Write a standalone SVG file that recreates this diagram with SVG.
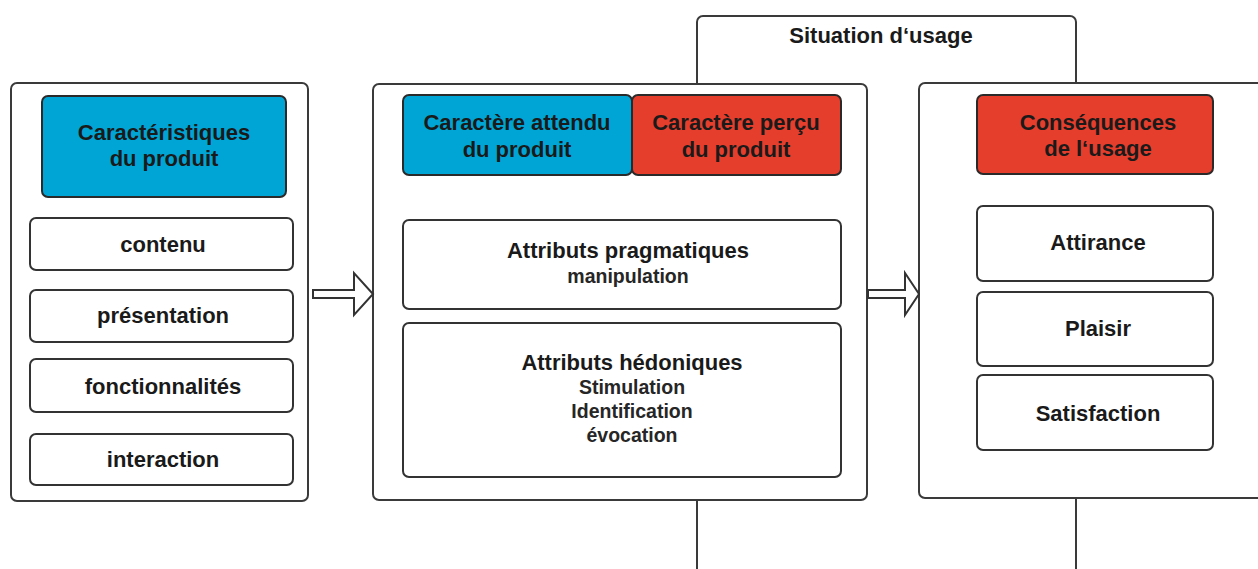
<svg xmlns="http://www.w3.org/2000/svg" width="1258" height="569" viewBox="0 0 1258 569">
<style>
  .frame { fill: #ffffff; stroke: #3a3a3a; stroke-width: 2; }
  .box { fill: #ffffff; stroke: #333333; stroke-width: 2; }
  .blue { fill: #00a5d5; stroke: #2a2a2a; stroke-width: 2; }
  .red { fill: #e63e2d; stroke: #2a2a2a; stroke-width: 2; }
  .arrow { fill: #ffffff; stroke: #333333; stroke-width: 2; stroke-linejoin: miter; }
  text { font-family: "Liberation Sans", Arial, Helvetica, sans-serif; fill: #1a1a1a; text-anchor: middle; }
  .h { font-size: 22px; font-weight: bold; }
  .s { font-size: 19.5px; font-weight: bold; fill: #262626; }
</style>
<rect width="1258" height="569" fill="#ffffff"/>

<g id="situation-usage">
  <rect class="frame" x="697" y="16" width="379" height="600" rx="6"/>
  <text class="h" x="881" y="43">Situation d‘usage</text>
</g>

<g id="caracteristiques">
  <rect class="frame" x="11" y="83" width="297" height="418" rx="6"/>
  <rect class="blue" x="42" y="96" width="244" height="101" rx="6"/>
  <text class="h" x="164" y="140">Caractéristiques</text>
  <text class="h" x="164" y="166">du produit</text>
  <rect class="box" x="30" y="218" width="263" height="52" rx="6"/>
  <text class="h" x="163" y="252">contenu</text>
  <rect class="box" x="30" y="290" width="263" height="52" rx="6"/>
  <text class="h" x="163" y="323">présentation</text>
  <rect class="box" x="30" y="359" width="263" height="53" rx="6"/>
  <text class="h" x="163" y="394">fonctionnalités</text>
  <rect class="box" x="30" y="434" width="263" height="51" rx="6"/>
  <text class="h" x="163" y="467">interaction</text>
</g>

<g id="caractere">
  <rect class="frame" x="373" y="84" width="494" height="416" rx="6"/>
  <rect class="blue" x="403" y="95" width="229" height="80" rx="6"/>
  <text class="h" x="517" y="130">Caractère attendu</text>
  <text class="h" x="517" y="157">du produit</text>
  <rect class="red" x="632" y="95" width="209" height="80" rx="6"/>
  <text class="h" x="736" y="130">Caractère perçu</text>
  <text class="h" x="736" y="157">du produit</text>
  <rect class="box" x="403" y="220" width="438" height="89" rx="6"/>
  <text class="h" x="628" y="258">Attributs pragmatiques</text>
  <text class="s" x="628" y="283">manipulation</text>
  <rect class="box" x="403" y="323" width="438" height="154" rx="6"/>
  <text class="h" x="632" y="370">Attributs hédoniques</text>
  <text class="s" x="632" y="394">Stimulation</text>
  <text class="s" x="632" y="418">Identification</text>
  <text class="s" x="632" y="442">évocation</text>
</g>

<g id="consequences">
  <rect class="frame" x="919" y="83" width="360" height="415" rx="6"/>
  <rect class="red" x="977" y="95" width="236" height="79" rx="6"/>
  <text class="h" x="1098" y="130">Conséquences</text>
  <text class="h" x="1098" y="156">de l‘usage</text>
  <rect class="box" x="977" y="206" width="236" height="75" rx="6"/>
  <text class="h" x="1098" y="250">Attirance</text>
  <rect class="box" x="977" y="292" width="236" height="74" rx="6"/>
  <text class="h" x="1098" y="336">Plaisir</text>
  <rect class="box" x="977" y="375" width="236" height="75" rx="6"/>
  <text class="h" x="1098" y="421">Satisfaction</text>
</g>

<g id="connectors">
  <path class="arrow" d="M313,290 L354,290 L354,273 L373,294 L354,315 L354,298 L313,298 Z"/>
  <path class="arrow" d="M868,290 L905,290 L905,273 L919,294 L905,315 L905,298 L868,298 Z"/>
</g>
</svg>
